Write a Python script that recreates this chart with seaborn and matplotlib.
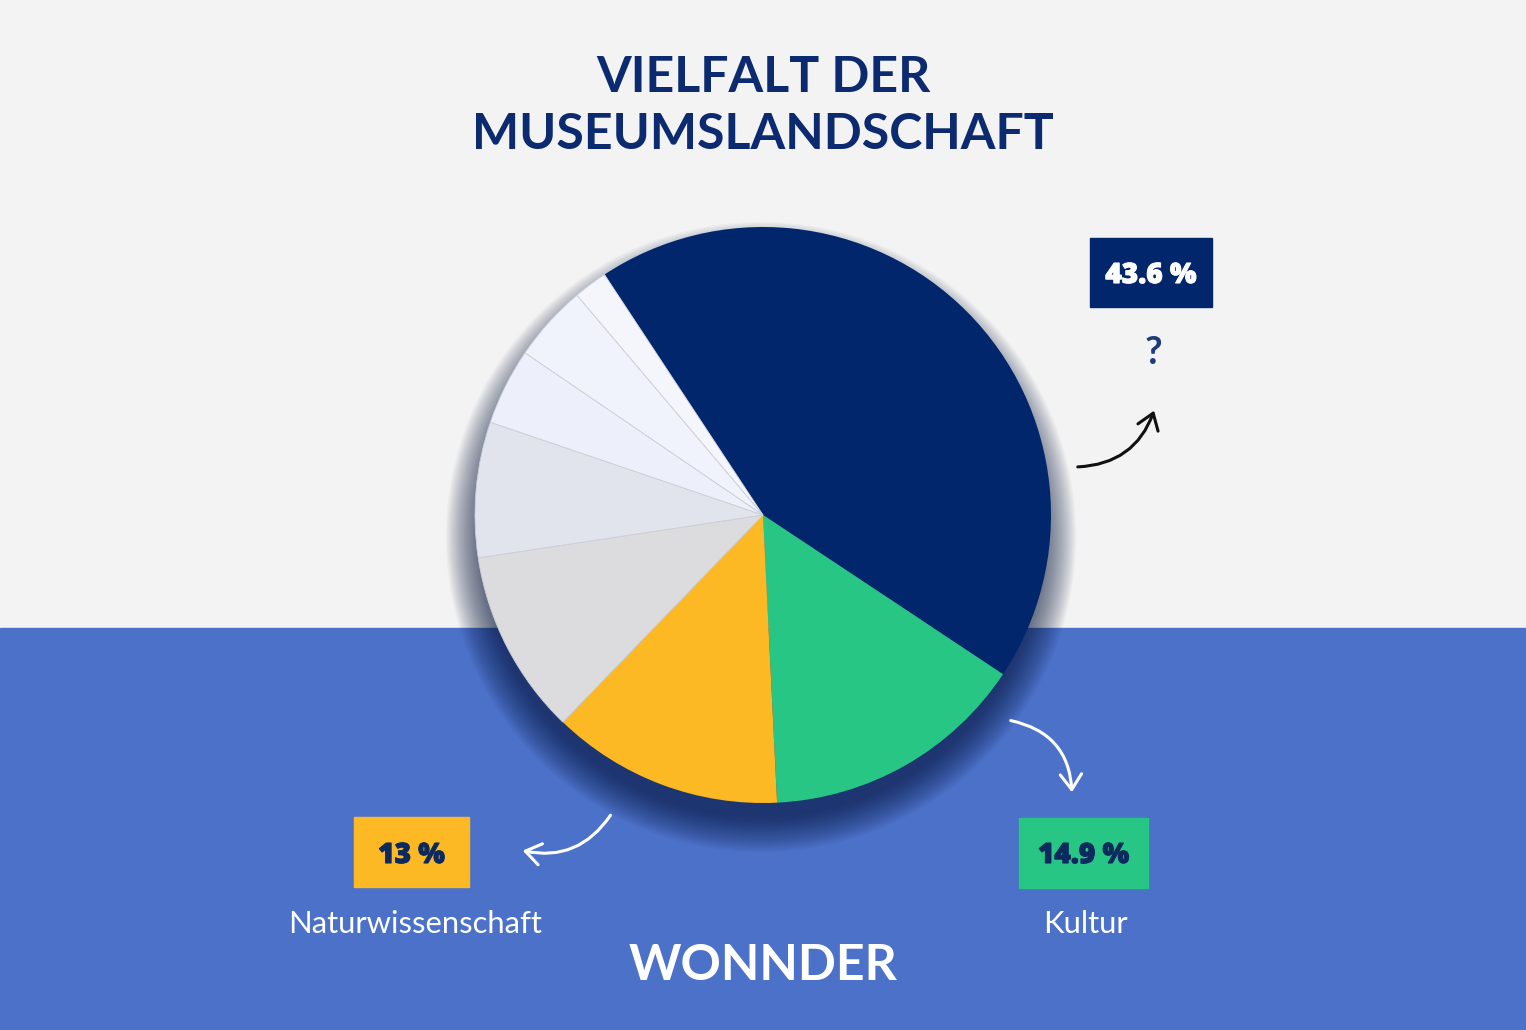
import matplotlib.pyplot as plt
import matplotlib.patheffects as pe
import seaborn as sns
from matplotlib.patches import Rectangle, Circle, FancyArrowPatch

# DATA
shares = [43.6, 14.9, 13.0, 10.4, 7.6, 4.3, 4.3, 1.9]
slice_colors = ['#02266b', '#28c684', '#fdb924', '#dcdbdd',
                '#e1e4ec', '#edf0fa', '#f0f3fc', '#f5f6fc']
callout_values = ['43.6 %', '14.9 %', '13 %']
callout_names = ['?', 'Kultur', 'Naturwissenschaft']
title_lines = ['VIELFALT DER', 'MUSEUMSLANDSCHAFT']
brand = 'WONNDER'

W, H = 1526, 1030
NAVY = '#0b2a6f'


def Y(y):
    # image pixel row -> data y (origin at bottom)
    return H - y


def pt(px):
    return px * 72 / 100


sns.set_theme(style='white')
plt.rcParams['font.family'] = ['Lato', 'DejaVu Sans']

fig = plt.figure(figsize=(W / 100, H / 100), dpi=100)
ax = fig.add_axes([0, 0, 1, 1])

# background halves
ax.add_patch(Rectangle((0, Y(628)), W, 628, color='#f3f3f3', zorder=0))
ax.add_patch(Rectangle((0, 0), W, Y(628), color='#4b71c9', zorder=0))

# soft shadow, mostly below the pie
cx, cy, r = 763, Y(515), 288
for k in range(28):
    ax.add_patch(Circle((cx - 2, cy - 22), r - 8 + k * 1.3, color='#0a1a40',
                        alpha=0.03, lw=0, zorder=1))

wedges, _ = ax.pie(shares, colors=slice_colors, startangle=123.4,
                   counterclock=False, center=(cx, cy), radius=r,
                   wedgeprops=dict(linewidth=0.6, edgecolor='none'))
for i, w in enumerate(wedges):
    w.set_zorder(2)
    if i >= 3:
        w.set_edgecolor('#ccd0da')

# titles
for text, base, col in [(title_lines[0], 92, NAVY), (title_lines[1], 149, NAVY),
                        (brand, 980, 'white')]:
    ax.text(763, Y(base), text, ha='center', va='baseline',
            fontsize=pt(50), fontweight='bold', color=col, zorder=3)

# callout boxes
boxes = [
    (1090, 238, 122, 69, slice_colors[0], 'white', 283),
    (1019, 818, 129, 70, slice_colors[1], '#0d2a5e', 863),
    (354, 817, 115, 70, slice_colors[2], '#0d2a5e', 863),
]
for (bx, by, bw, bh, fc, tc, base), label in zip(boxes, callout_values):
    ax.add_patch(Rectangle((bx, Y(by + bh)), bw, bh, color=fc, zorder=3))
    ax.text(bx + bw / 2, Y(base), label, ha='center', va='baseline',
            fontsize=pt(28), fontweight='heavy', color=tc, zorder=4,
            family=['Open Sans', 'DejaVu Sans'],
            path_effects=[pe.withStroke(linewidth=0.8, foreground=tc)])

ax.text(1153, Y(364), callout_names[0], ha='center', va='baseline',
        fontsize=pt(38), fontweight='bold', color='#1f3a7a', zorder=3)
ax.text(1085, Y(933), callout_names[1], ha='center', va='baseline',
        fontsize=pt(31), color='white', zorder=3)
ax.text(415, Y(933), callout_names[2], ha='center', va='baseline',
        fontsize=pt(31), color='white', zorder=3)

# curved arrows
arrows = [
    ((1075, 467), (1155, 408), 0.35, '#111111'),
    ((1008, 720), (1072, 795), -0.4, 'white'),
    ((612, 813), (520, 850), -0.35, 'white'),
]
for (x0, y0), (x1, y1), rad, col in arrows:
    ax.add_patch(FancyArrowPatch((x0, Y(y0)), (x1, Y(y1)),
                                 connectionstyle=f'arc3,rad={rad}',
                                 arrowstyle='->,head_length=0.5,head_width=0.35',
                                 mutation_scale=22, lw=2.2, color=col,
                                 capstyle='round', zorder=3))

ax.set_xlim(0, W)
ax.set_ylim(0, H)
ax.set_aspect('equal')
ax.axis('off')

fig.savefig('out.png', dpi=100)
